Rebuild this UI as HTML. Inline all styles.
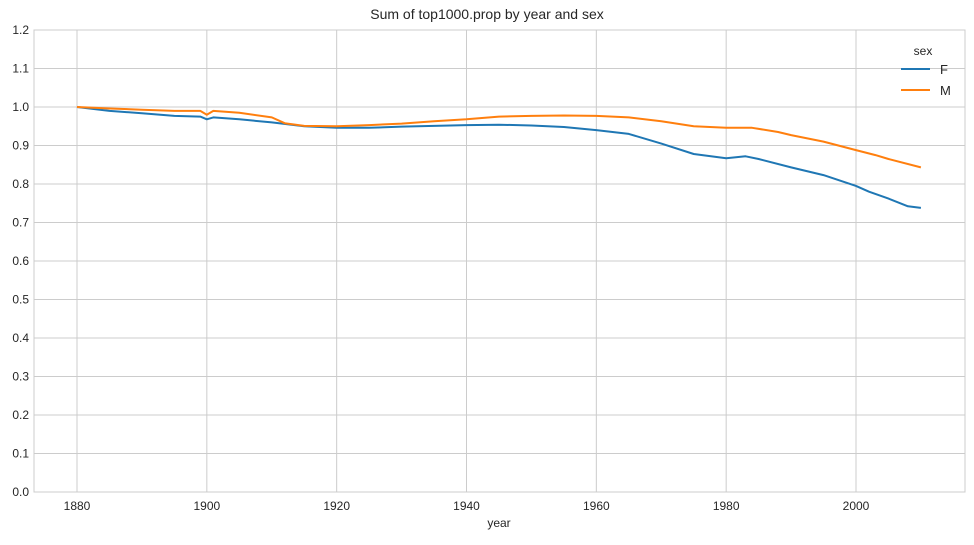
<!DOCTYPE html>
<html><head><meta charset="utf-8"><style>
body{margin:0;background:#fff;font-family:"Liberation Sans","DejaVu Sans",sans-serif}
svg text{font-family:"Liberation Sans","DejaVu Sans",sans-serif;fill:#262626}
</style></head><body>
<svg id="chart" width="974" height="540">
<g id="grid"></g>
<rect x="34" y="30" width="931" height="462" fill="none" stroke="#ccc" stroke-width="1"/>
<g id="ticks"></g>
<g id="lines"></g>
<text x="487" y="19" text-anchor="middle" font-size="14">Sum of top1000.prop by year and sex</text>
<text x="499" y="527" text-anchor="middle" font-size="12">year</text>
<g>
<text x="923" y="55" text-anchor="middle" font-size="12">sex</text>
<line x1="901" y1="69" x2="930" y2="69" stroke="#1f77b4" stroke-width="2"/>
<text x="940" y="74" font-size="13">F</text>
<line x1="901" y1="90" x2="930" y2="90" stroke="#ff7f0e" stroke-width="2"/>
<text x="940" y="95" font-size="13">M</text>
</g>
</svg>
<script>
const yearsF=[1880,1885,1890,1895,1899,1900,1901,1905,1910,1915,1920,1925,1930,1935,1940,1945,1950,1955,1960,1965,1970,1975,1980,1983,1985,1990,1995,2000,2002,2005,2008,2010];
const valuesF=[1.0,0.99,0.984,0.977,0.975,0.968,0.973,0.968,0.96,0.95,0.946,0.946,0.949,0.951,0.953,0.954,0.952,0.948,0.94,0.93,0.905,0.878,0.867,0.872,0.865,0.843,0.823,0.795,0.78,0.762,0.742,0.738];
const yearsM=[1880,1885,1890,1895,1899,1900,1901,1905,1910,1912,1915,1920,1925,1930,1935,1940,1945,1950,1955,1960,1965,1970,1975,1980,1984,1988,1990,1995,2000,2003,2005,2010];
const valuesM=[1.0,0.996,0.993,0.99,0.99,0.98,0.99,0.985,0.973,0.958,0.951,0.95,0.953,0.957,0.963,0.968,0.975,0.977,0.978,0.977,0.973,0.963,0.95,0.946,0.946,0.935,0.927,0.91,0.888,0.875,0.865,0.843];
const xTicks=[1880,1900,1920,1940,1960,1980,2000];
const yTicks=[0,0.1,0.2,0.3,0.4,0.5,0.6,0.7,0.8,0.9,1.0,1.1,1.2];
const NS="http://www.w3.org/2000/svg";
const X=y=>77+(y-1880)*(856-77)/120;
const Y=v=>492-v*(462/1.2);
const grid=document.getElementById('grid'),ticks=document.getElementById('ticks'),lines=document.getElementById('lines');
function mk(tag,attrs,parent){const e=document.createElementNS(NS,tag);for(const k in attrs)e.setAttribute(k,attrs[k]);parent.appendChild(e);return e;}
xTicks.forEach(t=>{
 const l=mk('line',{x1:X(t),x2:X(t),y1:30,y2:492,stroke:'#ccc','stroke-width':1},grid);
 
 
 const tx=mk('text',{x:X(t),y:510,'text-anchor':'middle','font-size':12},ticks);
 tx.textContent=t;
 
 
});
yTicks.forEach(t=>{
 const l=mk('line',{x1:34,x2:965,y1:Y(t),y2:Y(t),stroke:'#ccc','stroke-width':1},grid);
 
 
 const tx=mk('text',{x:29,y:Y(t)+4,'text-anchor':'end','font-size':12},ticks);
 tx.textContent=t.toFixed(1);
 
 
});
function series(ys,vs,color,name){
 const d=ys.map((y,i)=>(i?'L':'M')+X(y).toFixed(1)+','+Y(vs[i]).toFixed(1)).join('');
 const p=mk('path',{d:d,fill:'none',stroke:color,'stroke-width':2,'stroke-linejoin':'round'},lines);
 
 
}
series(yearsF,valuesF,'#1f77b4','line-f');
series(yearsM,valuesM,'#ff7f0e','line-m');
</script>
</body></html>
